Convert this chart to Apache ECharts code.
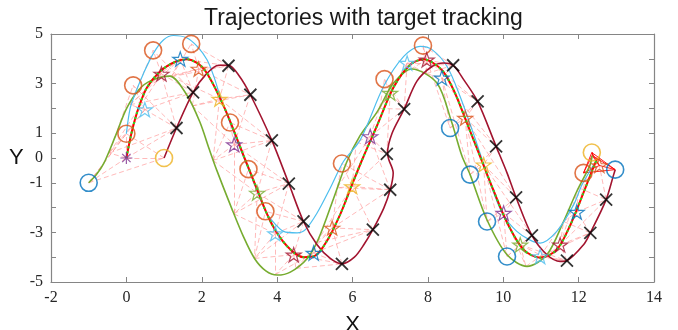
<!DOCTYPE html>
<html>
<head>
<meta charset="utf-8">
<script src="https://cdn.jsdelivr.net/npm/echarts@6/dist/echarts.min.js"></script>
<style>
  html, body { margin: 0; padding: 0; background: #fff; }
  #traj { width: 678px; height: 330px; }
</style>
</head>
<body>
<div id="traj"></div>
<script>
// tracks, [x, y]
const greenTrack = [[-1, -1], [-0.8, -0.68], [-0.6, -0.22], [-0.3, 0.85], [0, 1.98], [0.33, 2.75], [0.65, 3.12], [1.15, 3.3], [1.6, 2.55], [1.95, 1.45], [2.2, 0.35], [2.4, -0.5], [2.8, -2.05], [3.1, -3.15], [3.4, -4.05], [3.7, -4.55], [4.0, -4.72], [4.35, -4.6], [4.8, -4.05], [5.1, -3.25], [5.5, -1.62], [5.85, -0.15], [6.2, 0.9], [6.65, 1.85], [7.09, 3.02], [7.58, 3.59], [8.24, 3.02], [8.62, 1.5], [8.9, 0.1], [9.12, -0.67], [9.57, -2.5], [10.1, -3.9], [10.63, -4.37], [11.16, -3.9], [11.6, -2.56], [11.95, -1.35], [12.3, -0.3], [12.36, 0.1]]
const redTrack = [[0, 0], [0.15, 1.1], [0.33, 2.05], [0.55, 2.85], [0.9, 3.5], [1.3, 3.88], [1.61, 3.98], [2.05, 3.6], [2.58, 2.1], [3.11, 0.1], [3.4, -1.0], [3.82, -2.55], [4.26, -3.55], [4.7, -4.0], [5.0, -3.95], [5.32, -3.35], [5.68, -2.25], [5.98, -1.1], [6.29, 0.05], [6.65, 1.3], [7.09, 2.85], [7.53, 3.76], [7.89, 3.98], [8.37, 3.55], [8.68, 2.75], [9.04, 1.4], [9.39, 0.05], [9.74, -1.3], [10.1, -2.6], [10.54, -3.7], [10.98, -4.02], [11.42, -3.7], [11.78, -2.7], [12.13, -1.4], [12.4, -0.35], [12.5, 0.0]]
const maroonTrack = [[1, 0], [1.33, 1.21], [1.77, 2.65], [2.1, 3.35], [2.45, 3.74], [2.71, 3.74], [3.0, 3.3], [3.29, 2.55], [3.86, 0.71], [4.31, -1.03], [4.7, -2.56], [5.06, -3.5], [5.41, -4.05], [5.72, -4.27], [6.05, -4.0], [6.3, -3.5], [6.54, -2.89], [6.83, -2.02], [7.0, -1.28], [7.08, -0.6], [6.96, -0.05], [6.93, 0.2], [7.05, 1.0], [7.37, 1.97], [7.71, 3.1], [8.11, 3.69], [8.42, 3.83], [8.67, 3.74], [8.95, 3.16], [9.32, 2.28], [9.81, 0.47], [10.1, -0.6], [10.34, -1.59], [10.76, -3.12], [11.16, -3.9], [11.51, -4.17], [11.69, -4.14], [12.13, -3.5], [12.31, -3.02], [12.73, -1.68], [12.93, -0.67], [12.97, -0.47]]
const skyTrack = [[0, 0.98], [0.1, 2.0], [0.24, 2.62], [0.46, 3.43], [0.72, 4.23], [0.99, 4.77], [1.25, 4.94], [1.61, 4.84], [1.88, 4.5], [2.14, 3.96], [2.32, 3.29], [2.49, 2.48], [2.75, 1.43], [3.0, 0.45], [3.24, -0.45], [3.5, -1.45], [3.69, -2.15], [3.85, -2.5], [4.17, -2.96], [4.53, -3.02], [4.75, -2.89], [5.06, -2.22], [5.41, -1.21], [5.76, -0.14], [6.21, 0.74], [6.83, 2.9], [7.36, 4.1], [7.8, 4.5], [8.11, 4.37], [8.51, 3.69], [8.85, 2.5], [9.25, 0.8], [9.65, -1.0], [10.0, -2.3], [10.36, -2.96], [10.7, -3.3], [10.98, -3.43], [11.42, -2.96], [11.87, -1.88], [12.09, -1.08], [12.4, -0.27]]

// markers, with the time step each one belongs to
const starPts = [[0, 0], [0.49, 1.95], [0.93, 3.39], [1.43, 3.99], [1.92, 3.59], [2.47, 2.38], [2.86, 0.54], [3.47, -1.41], [3.95, -3.05], [4.44, -3.9], [4.97, -3.83], [5.46, -2.82], [5.99, -1.15], [6.47, 0.87], [7.0, 2.62], [7.45, 3.83], [7.97, 3.96], [8.37, 3.23], [8.99, 1.61], [9.48, -0.27], [10.01, -2.22], [10.45, -3.5], [10.98, -3.97], [11.51, -3.5], [11.95, -2.18], [12.55, -0.3]]
const crossPts = [[1.33, 1.21], [1.77, 2.65], [2.71, 3.72], [3.29, 2.55], [3.86, 0.71], [4.31, -1.03], [4.7, -2.56], [5.72, -4.27], [6.54, -2.89], [7.0, -1.28], [6.91, 0.17], [7.37, 1.97], [8.67, 3.74], [9.32, 2.28], [9.81, 0.47], [10.34, -1.59], [10.76, -3.12], [11.69, -4.14], [12.31, -3.02], [12.73, -1.68]]
const crossStep = [1, 2, 4, 5, 6, 7, 8, 10, 11, 12, 13, 14, 16, 17, 18, 19, 20, 22, 23, 24]
// green target position at each step (points on the green curve)
const greenAtStep = [[-1, -1], [-0.45, 0.2], [0.1, 2.15], [0.65, 3.12], [1.2, 3.28], [1.75, 2.1], [2.3, -0.1], [2.85, -2.25], [3.4, -4.05], [3.95, -4.7], [4.5, -4.45], [5.05, -3.4], [5.6, -1.2], [6.1, 0.65], [6.72, 2.0], [7.34, 3.4], [7.96, 3.4], [8.59, 1.21], [9.12, -0.67], [9.57, -2.56], [10.1, -3.97], [10.6, -4.37], [11.1, -4.0], [11.6, -2.56], [12.0, -1.2], [12.36, 0.1]]
const orangeCircles = [[0, 0.98], [0.18, 2.93], [0.71, 4.34], [1.72, 4.6], [2.75, 1.43], [3.24, -0.45], [3.69, -2.15], [5.72, -0.22], [6.85, 3.18], [7.87, 4.53], [12.13, -0.6]]
const orangeStep = [0, 1, 2, 4, 6, 7, 8, 12, 14, 16, 25]
const blueCircles = [[-1, -1], [8.59, 1.21], [9.12, -0.67], [9.57, -2.56], [10.1, -3.97], [12.97, -0.47]]
const blueStep = [0, 17, 18, 19, 20, 25]
const yellowCircles = [[1, 0], [12.35, 0.22]]
const yellowStep = [0, 25]

const yTickLabels = [5, 3, 1, 0, -1, -3, -5]

const starColors = ['#4DBEEE', '#A2142F', '#0072BD', '#D95319', '#EDB120', '#7E2F8E', '#77AC30']
const starPath = 'path://M50,0L61.8,34.5L97.6,34.5L68.8,55.9L79.4,90.5L50,69.1L20.6,90.5L31.2,55.9L2.4,34.5L38.2,34.5Z'
const crossPath = 'path://M0,0L100,100M100,0L0,100'
const asteriskPath = 'path://M50,0L50,100M0,50L100,50M15,15L85,85M85,15L15,85'
const lastStep = 25

// association lines between the targets, inside a step and to the next step
function buildLinks() {
  const steps = starPts.map((p, t) => ({ star: p, green: greenAtStep[t], cross: null, extra: [] }))
  crossPts.forEach((p, i) => { steps[crossStep[i]].cross = p })
  orangeCircles.forEach((p, i) => steps[orangeStep[i]].extra.push(p))
  blueCircles.forEach((p, i) => {
    const s = steps[blueStep[i]]
    if (s.green[0] !== p[0]) s.extra.push(p)
  })
  yellowCircles.forEach((p, i) => steps[yellowStep[i]].extra.push(p))

  const out = []
  const dashed = { color: '#ff8c8c', width: 0.8, type: [5, 3], opacity: 0.75 }
  const solid = { color: '#ff0000', width: 1, type: 'solid', opacity: 0.9 }
  const link = (a, b, style) => { if (a && b) out.push({ coords: [a, b], lineStyle: style }) }

  steps.forEach((s, t) => {
    const pts = [s.star, s.green, s.cross].concat(s.extra).filter(Boolean)
    const style = t === lastStep ? solid : dashed
    for (let i = 0; i < pts.length; i++) {
      for (let j = i + 1; j < pts.length; j++) link(pts[i], pts[j], style)
    }
    const n = steps[t + 1]
    if (n) {
      link(s.star, n.cross, dashed)
      link(s.cross, n.star, dashed)
      link(s.green, n.star, dashed)
      link(s.star, n.green, dashed)
    }
  })
  return out
}

function track(data, color, width, extra) {
  return Object.assign({
    type: 'line',
    data: data,
    smooth: 0.3,
    showSymbol: false,
    silent: true,
    lineStyle: { color: color, width: width },
    z: 3
  }, extra || {})
}

function ring(data, color) {
  return {
    type: 'scatter',
    data: data,
    symbol: 'circle',
    symbolSize: 17,
    silent: true,
    itemStyle: { color: 'rgba(0,0,0,0)', borderColor: color, borderWidth: 1.6 },
    z: 5
  }
}

const chart = echarts.init(document.getElementById('traj'))
const frame = '#858585'
const tickFont = { fontFamily: 'Liberation Serif', fontSize: 16, color: '#262626' }

chart.setOption({
  animation: false,
  title: {
    text: 'Trajectories with target tracking',
    left: 199,
    top: 2,
    textStyle: { fontFamily: 'Liberation Sans', fontSize: 23, fontWeight: 'normal', color: '#1a1a1a' }
  },
  grid: { left: 51, right: 24, top: 34, bottom: 48, containLabel: false, outerBoundsMode: 'none' },
  xAxis: [
    {
      type: 'value', min: -2, max: 14, interval: 2, position: 'bottom',
      name: 'X', nameLocation: 'middle', nameGap: 32,
      nameTextStyle: { fontFamily: 'Liberation Sans', fontSize: 22, color: '#111' },
      axisLine: { onZero: false, lineStyle: { color: frame, width: 1.2 } },
      axisTick: { inside: true, length: 5, lineStyle: { color: frame } },
      axisLabel: Object.assign({ margin: 8 }, tickFont),
      splitLine: { show: false }
    },
    {
      type: 'value', min: -2, max: 14, interval: 2, position: 'top',
      axisLine: { onZero: false, lineStyle: { color: frame, width: 1.2 } },
      axisTick: { inside: true, length: 5, lineStyle: { color: frame } },
      axisLabel: { show: false },
      splitLine: { show: false }
    }
  ],
  yAxis: [
    {
      type: 'value', min: -5, max: 5, interval: 1, position: 'left',
      name: 'Y', nameLocation: 'middle', nameRotate: 0, nameGap: 16,
      nameTextStyle: { fontFamily: 'Liberation Sans', fontSize: 22, color: '#111', padding: [14, 0, 0, 0] },
      axisLine: { onZero: false, lineStyle: { color: frame, width: 1.2 } },
      axisTick: { inside: true, length: 5, lineStyle: { color: frame } },
      axisLabel: Object.assign({
        margin: 8,
        formatter: v => (yTickLabels.indexOf(v) >= 0 ? String(v) : '')
      }, tickFont),
      splitLine: { show: false }
    },
    {
      type: 'value', min: -5, max: 5, interval: 1, position: 'right',
      axisLine: { onZero: false, lineStyle: { color: frame, width: 1.2 } },
      axisTick: { inside: true, length: 5, lineStyle: { color: frame } },
      axisLabel: { show: false },
      splitLine: { show: false }
    }
  ],
  series: [
    {
      type: 'lines',
      coordinateSystem: 'cartesian2d',
      silent: true,
      data: buildLinks(),
      z: 1
    },
    track(greenTrack, '#77AC30', 1.6),
    track(skyTrack, '#4DBEEE', 1.2),
    track(maroonTrack, '#A2142F', 1.6),
    track(redTrack, '#ff0000', 2),
    track(redTrack, '#22e022', 2, { lineStyle: { color: '#22e022', width: 2, type: [2, 3] }, z: 4 }),
    ring(orangeCircles, '#D95319'),
    ring(blueCircles, '#0072BD'),
    ring(yellowCircles, '#EDB120'),
    {
      type: 'scatter',
      data: crossPts,
      symbol: crossPath,
      symbolSize: 12,
      silent: true,
      itemStyle: { color: 'rgba(0,0,0,0)', borderColor: '#000', borderWidth: 1.8 },
      z: 6
    },
    {
      type: 'scatter',
      data: starPts.map((p, i) => ({
        value: p,
        symbol: i === 0 ? asteriskPath : starPath,
        symbolSize: i === 0 ? 12 : 15,
        itemStyle: { borderColor: i === 0 ? '#7E2F8E' : starColors[(i - 1) % starColors.length] }
      })),
      symbolKeepAspect: true,
      silent: true,
      itemStyle: { color: 'rgba(0,0,0,0)', borderWidth: 1.2 },
      z: 6
    }
  ]
})
</script>
</body>
</html>
